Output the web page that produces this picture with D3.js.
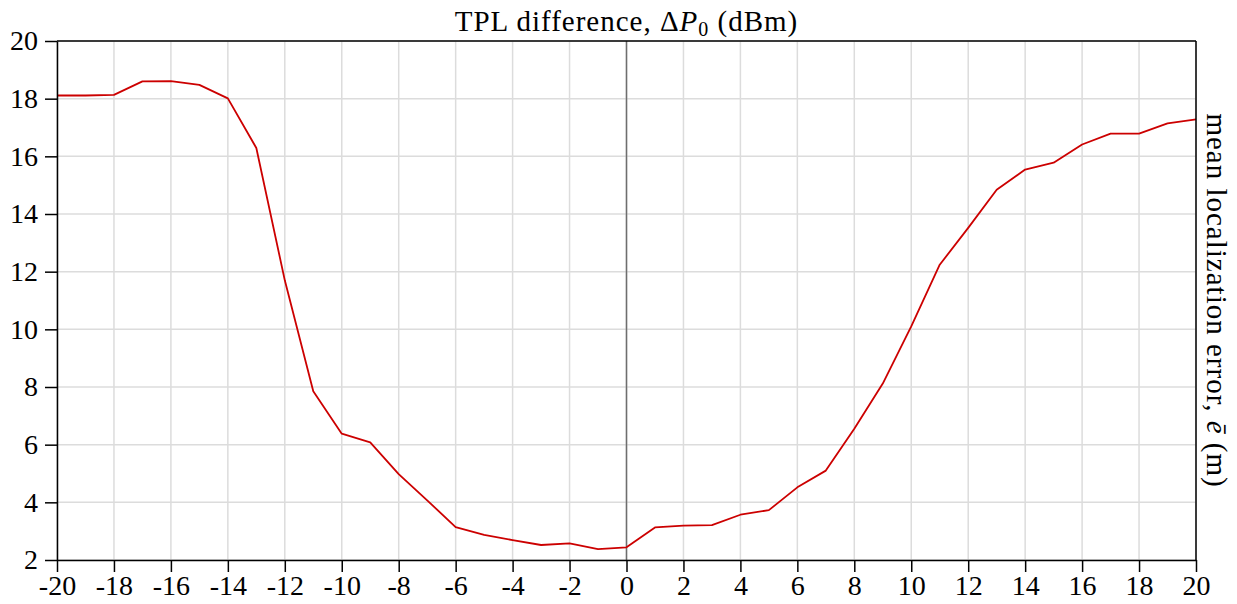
<html>
<head>
  <meta charset="utf-8" />
  <script src="https://cdnjs.cloudflare.com/ajax/libs/d3/7.8.5/d3.min.js"></script>
  <style>
    body { margin: 0; background: #fff; }
    svg text { font-family: "Liberation Serif", "DejaVu Serif", serif; fill: #000; }
    .grid line { stroke: #dcdcdc; stroke-width: 1.5; }
    .axis path, .axis line { stroke: #000; stroke-width: 1.5; }
  </style>
</head>
<body>
  <svg id="chart"></svg>
  <script>

  // TPL difference (dBm)
  var deltaP = [-20, -19, -18, -17, -16, -15, -14, -13, -12, -11, -10, -9, -8, -7, -6, -5, -4, -3, -2, -1,
                0, 1, 2, 3, 4, 5, 6, 7, 8, 9, 10, 11, 12, 13, 14, 15, 16, 17, 18, 19, 20];
  // mean localization error (m)
  var meanError = [18.11, 18.11, 18.13, 18.60, 18.61, 18.48, 18.01, 16.29, 11.7, 7.85, 6.38, 6.08, 4.98, 4.07,
                   3.14, 2.87, 2.69, 2.52, 2.58, 2.38, 2.44, 3.13, 3.19, 3.21, 3.57, 3.73, 4.52, 5.10, 6.55,
                   8.12, 10.10, 12.24, 13.52, 14.84, 15.54, 15.78, 16.41, 16.79, 16.79, 17.14, 17.28];
  var xTicks = d3.range(-20, 21, 2);
  var yTicks = d3.range(2, 21, 2);

  var width = 1237, height = 604;
  var margin = { top: 41, right: 41, bottom: 44, left: 57 };

  var svg = d3.select("#chart").attr("width", width).attr("height", height);

  var x = d3.scaleLinear().domain([-20, 20]).range([margin.left, width - margin.right]);
  var y = d3.scaleLinear().domain([2, 20]).range([height - margin.bottom, margin.top]);

  // grid
  var grid = svg.append("g").attr("class", "grid");
  grid.selectAll(".vg").data(xTicks).enter().append("line")
      .attr("x1", d => x(d)).attr("x2", d => x(d))
      .attr("y1", y(2)).attr("y2", y(20));
  grid.selectAll(".hg").data(yTicks).enter().append("line")
      .attr("x1", x(-20)).attr("x2", x(20))
      .attr("y1", d => y(d)).attr("y2", d => y(d));

  // zero line
  svg.append("line")
      .attr("x1", x(0)).attr("x2", x(0))
      .attr("y1", y(2)).attr("y2", y(20))
      .attr("stroke", "#6e6e6e").attr("stroke-width", 1.5);

  // the curve
  var line = d3.line()
      .x((d, i) => x(deltaP[i]))
      .y(d => y(d));
  svg.append("path")
      .attr("d", line(meanError))
      .attr("fill", "none")
      .attr("stroke", "#cc0000")
      .attr("stroke-width", 1.8)
      .attr("stroke-linejoin", "round");

  // frame: top and right
  svg.append("line").attr("x1", x(-20)).attr("x2", x(20)).attr("y1", y(20)).attr("y2", y(20))
      .attr("stroke", "#000").attr("stroke-width", 1.5);
  svg.append("line").attr("x1", x(20)).attr("x2", x(20)).attr("y1", y(20)).attr("y2", y(2))
      .attr("stroke", "#000").attr("stroke-width", 1.5);

  // axes (plain hyphen for negatives, as in the original)
  var fmt = d => String(d);
  var xAxis = d3.axisBottom(x).tickValues(xTicks).tickFormat(fmt).tickSize(12).tickSizeOuter(0).tickPadding(3);
  svg.append("g").attr("class", "axis")
      .attr("transform", "translate(0," + y(2) + ")")
      .call(xAxis);

  var yAxis = d3.axisLeft(y).tickValues(yTicks).tickFormat(fmt).tickSize(12).tickSizeOuter(0).tickPadding(7);
  svg.append("g").attr("class", "axis")
      .attr("transform", "translate(" + x(-20) + ",0)")
      .call(yAxis);

  svg.selectAll(".axis text").attr("font-family", null).attr("font-size", 28);

  // title
  var title = svg.append("text")
      .attr("x", (x(-20) + x(20)) / 2)
      .attr("y", 31)
      .attr("text-anchor", "middle")
      .attr("font-size", 29)
      .attr("letter-spacing", 1);
  title.append("tspan").text("TPL difference, \u0394");
  title.append("tspan").attr("font-style", "italic").text("P");
  title.append("tspan").attr("font-size", 20).attr("dy", 5).text("0");
  title.append("tspan").attr("dy", -5).text(" (dBm)");

  // right label
  var ylab = svg.append("text")
      .attr("transform", "translate(" + (x(20) + 11) + "," + ((y(2) + y(20)) / 2) + ") rotate(90)")
      .attr("text-anchor", "middle")
      .attr("font-size", 29)
      .attr("letter-spacing", 1);
  ylab.append("tspan").text("mean localization error, ");
  ylab.append("tspan").attr("font-style", "italic").text("\u0113");
  ylab.append("tspan").text(" (m)");

  </script>
</body>
</html>
